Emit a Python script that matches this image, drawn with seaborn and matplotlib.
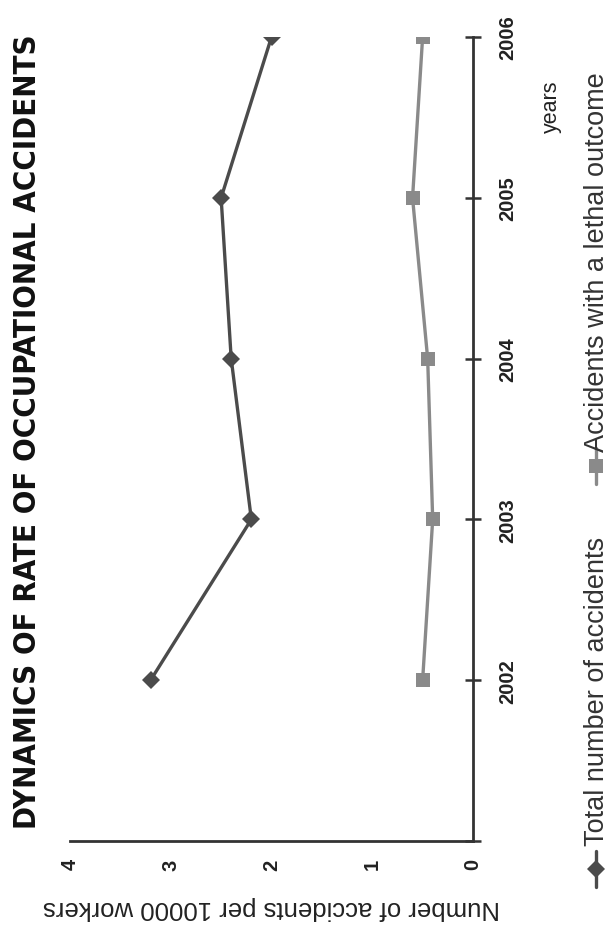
import matplotlib
matplotlib.use("Agg")
import matplotlib.pyplot as plt
from matplotlib import font_manager
from matplotlib.lines import Line2D
import pandas as pd
import seaborn as sns

# data (rate per 10000 workers)
years = [2002, 2003, 2004, 2005, 2006]
total_accidents = [3.2, 2.2, 2.4, 2.5, 2.0]
lethal_accidents = [0.5, 0.4, 0.45, 0.6, 0.5]
value_ticks = [0, 1, 2, 3, 4]

title = "DYNAMICS OF RATE OF OCCUPATIONAL ACCIDENTS"
value_label = "Number of accidents per 10000 workers"
year_label = "years"
series_names = ["Total number of accidents", "Accidents with a lethal outcome"]

df = pd.DataFrame({"year": years, "total": total_accidents, "lethal": lethal_accidents})

sns.set_style("white")
plt.rcParams["font.family"] = ["Liberation Sans", "DejaVu Sans"]

# a narrow bold face for the title if one is installed
narrow = [f for f in font_manager.fontManager.ttflist
          if f.stretch in ("condensed", "semi-condensed", "extra-condensed")
          or "Narrow" in f.name or "Condensed" in f.name]
if narrow:
    title_kw = dict(family=narrow[0].name, fontstretch="condensed", fontsize=22.3)
else:
    title_kw = dict(family="Liberation Sans", fontsize=21.5)

dark = "#4b4b4b"
light = "#8a8a8a"
axis_col = "#333333"

fig = plt.figure(figsize=(6.12, 9.37), dpi=100)
ax = fig.add_axes([70 / 612, 1 - 842 / 937, (473 - 70) / 612, (842 - 38) / 937])

# the chart is laid out turned a quarter turn: values run across, years run up
sns.lineplot(data=df, x="total", y="year", orient="y", ax=ax, color=dark,
             linewidth=2.4, marker="D", markersize=9, markeredgewidth=0)
sns.lineplot(data=df, x="lethal", y="year", orient="y", ax=ax, color=light,
             linewidth=2.4, marker="s", markersize=10, markeredgewidth=0)

ax.set_xlim(4, 0)
ax.set_ylim(2001, 2006)
ax.set_xticks(value_ticks)
ax.set_yticks([2001] + years, labels=[""] + [str(y) for y in years])

for s in ["top", "left"]:
    ax.spines[s].set_visible(False)
for s in ["bottom", "right"]:
    ax.spines[s].set_color(axis_col)
    ax.spines[s].set_linewidth(2)

ax.yaxis.tick_right()
ax.tick_params(axis="both", direction="inout", length=11, width=1.8, color=axis_col)
ax.tick_params(axis="x", pad=7, labelsize=14.5, labelrotation=90)
ax.tick_params(axis="y", pad=13, labelsize=14.5, labelrotation=90)
for lab in ax.get_xticklabels() + ax.get_yticklabels():
    lab.set_fontweight("bold")
    lab.set_color("#222222")
for lab in ax.get_yticklabels():
    lab.set_verticalalignment("center")

ax.set_xlabel(value_label, rotation=180, fontsize=18.5, color="#222222", labelpad=18)
ax.set_ylabel("")

fig.text(28 / 612, 1 - 432 / 937, title, rotation=90, ha="center", va="center",
         fontweight="bold", color="#111111", **title_kw)
fig.text(551 / 612, 1 - 107 / 937, year_label, rotation=90, ha="center", va="center",
         fontsize=15.5, color="#222222")

# hand-made legend, turned like the rest of the chart
leg_items = [(series_names[0], dark, "D", 9, 870, 846),
             (series_names[1], light, "s", 10, 467, 452)]
for name, col, mk, ms, ymk, ytext in leg_items:
    fig.add_artist(Line2D([596 / 612, 596 / 612], [1 - (ymk + 18) / 937, 1 - (ymk - 18) / 937],
                          color=col, linewidth=2.4, transform=fig.transFigure))
    fig.add_artist(Line2D([596 / 612], [1 - ymk / 937], color=col, marker=mk,
                          markersize=ms, markeredgewidth=0, transform=fig.transFigure))
    fig.text(597 / 612, 1 - ytext / 937, name, rotation=90, ha="center", va="bottom",
             fontsize=19.5, color="#333333")

fig.savefig("out.png", dpi=100, facecolor="white")
